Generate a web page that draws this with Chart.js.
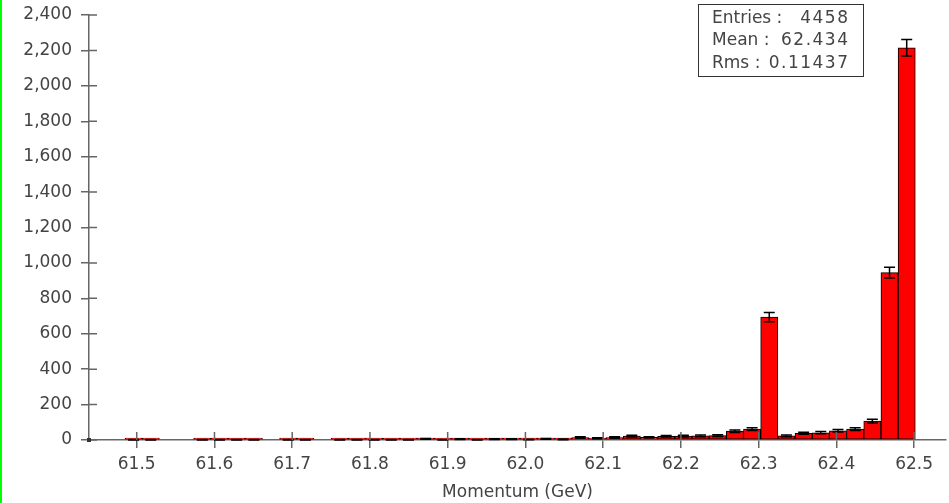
<!DOCTYPE html>
<html>
<head>
<meta charset="utf-8">
<script src="https://cdn.jsdelivr.net/npm/chart.js@4.4.1/dist/chart.umd.min.js"></script>
<style>
  body { margin: 0; background: #fff; }
  #wrap { position: relative; width: 949px; height: 503px; }
</style>
</head>
<body>
<div id="wrap"><canvas id="momentumChart"></canvas></div>
<script>
// histogram bins (GeV)
var binStart = 61.4407;
var binWidth = 0.0221;
var counts = [
  0, 0, 2, 2, 0, 0, 2, 2, 2, 2,
  0, 2, 2, 0, 2, 2, 2, 2, 2, 6,
  2, 5, 2, 5, 5, 3, 6, 4, 14, 10,
  14, 22, 15, 21, 22, 23, 25, 50, 62, 694,
  23, 38, 41, 52, 62, 107, 945, 2215
];
var xTicks = [61.5, 61.6, 61.7, 61.8, 61.9, 62.0, 62.1, 62.2, 62.3, 62.4, 62.5];
var yTicks = [0, 200, 400, 600, 800, 1000, 1200, 1400, 1600, 1800, 2000, 2200, 2400];
var statLabels = ['Entries :', 'Mean :', 'Rms :'];
var statValues = ['4458', '62.434', '0.11437'];

var points = counts.map(function (c, i) {
  return { x: binStart + (i + 0.5) * binWidth, y: c > 0 ? c : null };
});

var font = 'DejaVu Sans';
var textColor = '#444';
var axisColor = '#666';

var errorBars = {
  id: 'errorBars',
  afterDatasetsDraw: function (chart) {
    var ctx = chart.ctx;
    var ys = chart.scales.y;
    var meta = chart.getDatasetMeta(0);
    ctx.save();
    ctx.strokeStyle = '#000';
    ctx.lineWidth = 1.5;
    meta.data.forEach(function (bar, i) {
      var v = counts[i];
      if (!v) return;
      var e = Math.sqrt(v);
      var top = ys.getPixelForValue(v + e);
      var bot = ys.getPixelForValue(Math.max(v - e, 0));
      ctx.beginPath();
      ctx.moveTo(bar.x, top); ctx.lineTo(bar.x, bot);
      ctx.moveTo(bar.x - 5.5, top); ctx.lineTo(bar.x + 5.5, top);
      ctx.moveTo(bar.x - 5.5, bot); ctx.lineTo(bar.x + 5.5, bot);
      ctx.stroke();
    });
    ctx.restore();
  }
};

var decor = {
  id: 'decor',
  afterDraw: function (chart) {
    var ctx = chart.ctx;
    var a = chart.chartArea;
    ctx.save();
    // green strip on the left edge
    ctx.fillStyle = '#00ff00';
    ctx.fillRect(0, 0, 2, chart.height);
    // inner tick marks
    ctx.strokeStyle = axisColor;
    ctx.lineWidth = 1.5;
    ctx.beginPath();
    chart.scales.y.ticks.forEach(function (t) {
      var y = chart.scales.y.getPixelForValue(t.value);
      ctx.moveTo(a.left, y); ctx.lineTo(a.left + 8, y);
    });
    chart.scales.x.ticks.forEach(function (t) {
      var x = chart.scales.x.getPixelForValue(t.value);
      ctx.moveTo(x, a.bottom); ctx.lineTo(x, a.bottom - 8);
    });
    ctx.stroke();
    ctx.fillStyle = '#333';
    ctx.fillRect(a.left - 2, a.bottom - 2, 4, 4);
    // stats box
    ctx.strokeStyle = '#333';
    ctx.lineWidth = 1;
    ctx.strokeRect(698.5, 4.5, 165, 72);
    ctx.fillStyle = textColor;
    ctx.font = '17px "' + font + '"';
    ctx.textBaseline = 'middle';
    statLabels.forEach(function (lab, i) {
      var y = 18.5 + i * 22.5;
      ctx.letterSpacing = '0px';
      ctx.textAlign = 'left';
      ctx.fillText(lab, 712, y);
      ctx.letterSpacing = '1.5px';
      ctx.textAlign = 'right';
      ctx.fillText(statValues[i], 849.5, y);
    });
    ctx.restore();
  }
};

new Chart(document.getElementById('momentumChart'), {
  type: 'bar',
  data: {
    datasets: [{
      data: points,
      backgroundColor: '#ff0000',
      borderColor: '#000',
      borderWidth: 1,
      borderSkipped: false,
      minBarLength: 2,
      barPercentage: 1,
      categoryPercentage: 1
    }]
  },
  options: {
    responsive: true,
    maintainAspectRatio: false,
    animation: false,
    layout: { padding: { left: 0, right: 3, top: 15, bottom: 0 } },
    plugins: { legend: { display: false }, tooltip: { enabled: false } },
    scales: {
      x: {
        type: 'linear',
        min: 61.4386,
        max: 62.541,
        offset: false,
        afterFit: function (s) { s.height = 63; s.paddingLeft = 0; s.paddingRight = 0; },
        afterBuildTicks: function (s) { s.ticks = xTicks.map(function (v) { return { value: v }; }); },
        grid: { offset: false, drawOnChartArea: false, drawTicks: true, tickLength: 8, color: axisColor, lineWidth: 1.5 },
        border: { display: true, color: axisColor, width: 1.5 },
        ticks: {
          color: textColor,
          font: { family: font, size: 17 },
          padding: 6,
          maxRotation: 0,
          autoSkip: false,
          callback: function (v) { return Number(v).toFixed(1); }
        },
        title: {
          display: true,
          text: 'Momentum (GeV)',
          color: textColor,
          font: { family: font, size: 17 },
          padding: { top: 0, bottom: 0 }
        }
      },
      y: {
        min: 0,
        max: 2400,
        afterFit: function (s) { s.width = 89; s.paddingTop = 0; s.paddingBottom = 0; },
        afterBuildTicks: function (s) { s.ticks = yTicks.map(function (v) { return { value: v }; }); },
        grid: { drawOnChartArea: false, drawTicks: true, tickLength: 8, color: axisColor, lineWidth: 1.5 },
        border: { display: true, color: axisColor, width: 1.5 },
        ticks: {
          color: textColor,
          font: { family: font, size: 17 },
          padding: 9,
          callback: function (v) { return v.toLocaleString('en-US'); }
        }
      }
    }
  },
  plugins: [errorBars, decor]
});
</script>
</body>
</html>
